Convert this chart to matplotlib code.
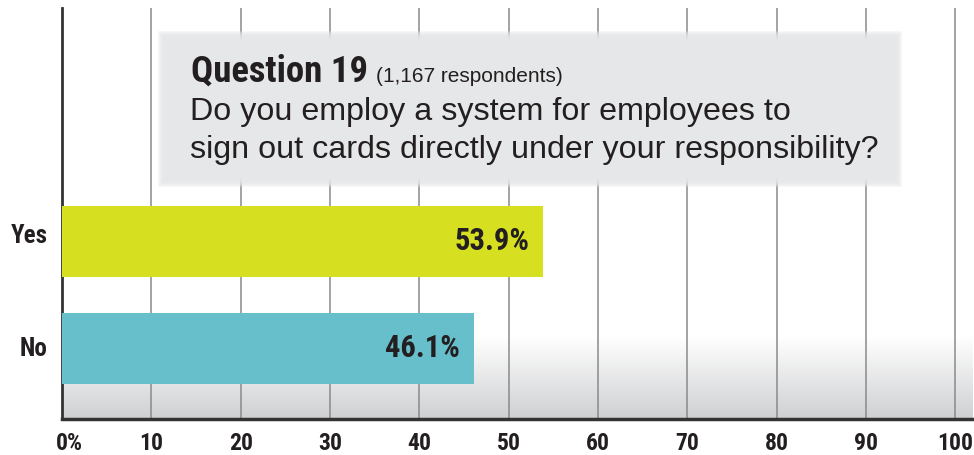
import numpy as np
import matplotlib.pyplot as plt
from matplotlib import font_manager
from matplotlib.patches import Rectangle
from matplotlib.colors import LinearSegmentedColormap
import matplotlib.transforms as mtrans

categories = ['No', 'Yes']
values = [46.1, 53.9]
bar_colors = ['#66bfca', '#d7df21']
ticks = [0, 10, 20, 30, 40, 50, 60, 70, 80, 90, 100]
tick_labels = ['0%', '10', '20', '30', '40', '50', '60', '70', '80', '90', '100']

title_bold = 'Question 19'
title_small = '(1,167 respondents)'
question_lines = ['Do you employ a system for employees to',
                  'sign out cards directly under your responsibility?']

# pick a condensed bold face if one is around
have = set(f.name for f in font_manager.fontManager.ttflist)
cond = 'DejaVu Sans'
for c in ['Roboto Condensed', 'Archivo Narrow', 'PT Sans Narrow', 'Fira Sans Condensed',
          'Liberation Sans Narrow']:
    if c in have:
        cond = c
        break
narrow = [cond, 'DejaVu Sans']
reg = ['Liberation Sans', 'DejaVu Sans']
dark = '#231f20'

W, H = 974, 455
fig = plt.figure(figsize=(W / 100, H / 100), dpi=100)
ax = fig.add_axes([62 / W, 1 - 419 / H, (973 - 62) / W, (419 - 8) / H])
ax.set_xlim(0, 102)
ax.set_ylim(-0.659, 3.182)

# grey gradient at the bottom
grad = np.linspace(0, 1, 256).reshape(-1, 1)
cm = LinearSegmentedColormap.from_list('g', ['#ffffff', '#cfd0d2'])
ax.imshow(grad, extent=[0, 1, 0, 0.2], transform=ax.transAxes, aspect='auto',
          cmap=cm, origin='upper', zorder=0)

for t in ticks[1:]:
    ax.axvline(t, color='#8a8a8a', lw=1.1, zorder=1)

y = np.arange(len(categories))
ax.barh(y, values, height=0.664, color=bar_colors, zorder=3)
for yi, v in zip(y, values):
    ax.text(v - 1.6, yi, f'{v:.1f}%', ha='right', va='center', fontsize=22,
            fontweight='bold', family=narrow, color=dark, zorder=4)

ax.set_yticks(y)
ax.set_yticklabels(categories, fontsize=18, fontweight='bold', family=narrow, color=dark)
ax.set_xticks(ticks)
ax.set_xticklabels(tick_labels, fontsize=17, fontweight='bold', family=narrow, color=dark)
ax.tick_params(axis='both', length=0)
ax.tick_params(axis='x', pad=9)
ax.tick_params(axis='y', pad=10.5)
# the "0" sits on the tick, "%" hangs to the right
lab0 = ax.get_xticklabels()[0]
lab0.set_transform(lab0.get_transform() + mtrans.ScaledTranslation(7 / 100, 0, fig.dpi_scale_trans))
for lab, up in zip(ax.get_yticklabels(), [2, 8]):
    lab.set_transform(lab.get_transform() + mtrans.ScaledTranslation(0, up / 100, fig.dpi_scale_trans))

for s in ['top', 'right']:
    ax.spines[s].set_visible(False)
ax.spines['left'].set_linewidth(2)
ax.spines['bottom'].set_linewidth(2.5)
ax.spines['left'].set_color('#333333')
ax.spines['bottom'].set_color('#333333')

# question box with feathered edges
bx0, by0, bx1, by1 = 158, 31, 902, 187
n = 9
for i in range(n + 1):
    fig.patches.append(Rectangle(((bx0 + i) / W, 1 - (by1 - i) / H),
                                 (bx1 - bx0 - 2 * i) / W, (by1 - by0 - 2 * i) / H,
                                 transform=fig.transFigure, color='#e6e7e8',
                                 alpha=0.3 if i < n else 1, lw=0, zorder=6))

t1 = fig.text(191 / W, 1 - 82 / H, title_bold, fontsize=26.5, fontweight='bold',
              family=narrow, color=dark, va='baseline', zorder=7)
fig.canvas.draw()
bb = t1.get_window_extent()
fig.text((bb.x1 + 8) / W, 1 - 82 / H, title_small, fontsize=15, family=reg,
         color=dark, va='baseline', zorder=7)
for line, base in zip(question_lines, [120, 158]):
    fig.text(190 / W, 1 - base / H, line, fontsize=23.2, family=reg, color=dark,
             va='baseline', zorder=7)

fig.savefig('out.png', dpi=100)
